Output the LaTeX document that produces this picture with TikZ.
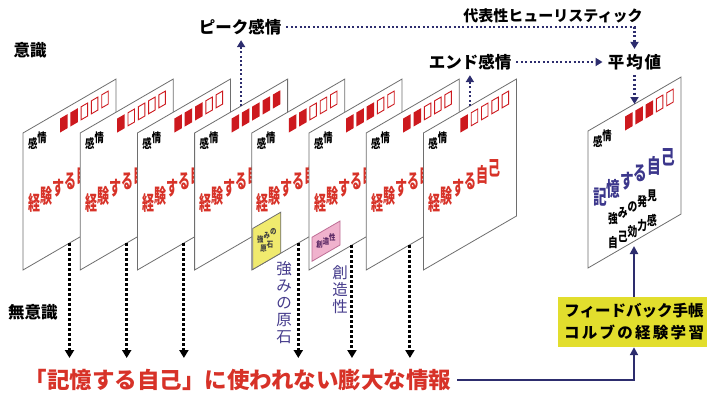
\documentclass[tikz,border=0pt]{standalone}
\usepackage{fontspec}
\setmainfont{Noto Sans CJK JP}
\newfontfamily\fsx{Noto Sans CJK JP}[FakeStretch=0.6]
\newfontfamily\fsxe{Noto Sans CJK JP}[FakeStretch=0.68]
\newfontfamily\fsvf{Noto Sans CJK JP}[FakeStretch=0.75]
\newfontfamily\fei{Noto Sans CJK JP}[FakeStretch=0.8]
\usetikzlibrary{arrows.meta,calc}
\definecolor{navy}{RGB}{45,45,110}
\definecolor{vlabc}{RGB}{70,60,140}
\definecolor{memc}{RGB}{60,55,140}
\definecolor{expred}{RGB}{215,50,40}
\definecolor{sqred}{RGB}{205,25,30}
\definecolor{cardgray}{RGB}{110,110,110}
\definecolor{fbyellow}{RGB}{226,222,45}
\definecolor{ylw}{RGB}{240,234,110}
\definecolor{pnk}{RGB}{240,178,205}
\definecolor{pnkd}{RGB}{190,110,150}
\definecolor{pnkt}{RGB}{90,40,100}
\tikzset{
 card/.style={draw=cardgray, fill=white, line width=0.8pt, minimum width=93pt, minimum height=137pt, inner sep=0pt, outer sep=0pt, anchor=north west, transform shape},
 ch/.style={inner sep=0pt},
 kanjo/.style={ch, font=\fsvf\bfseries\fontsize{12.5}{12.5}\selectfont},
 exptext/.style={ch, text=expred, font=\fsx\bfseries\fontsize{20}{20}\selectfont},
 memtext/.style={ch, text=memc, font=\fsxe\bfseries\fontsize{20}{20}\selectfont},
 smalltext/.style={ch, font=\fsvf\bfseries\fontsize{13}{13}\selectfont},
 boxtext/.style={ch, font=\fei\bfseries\fontsize{8}{8}\selectfont},
 lab/.style={font=\bfseries\fontsize{16.5}{16.5}\selectfont, inner sep=5pt},
 vlab/.style={text=vlabc, font=\fontsize{15.5}{17}\selectfont, align=center, inner sep=0pt},
 navydot/.style={navy, line width=2.2pt, dash pattern=on 2pt off 2.4pt, -{Triangle[width=8pt,length=7pt]}},
 blackdot/.style={black, line width=3pt, dash pattern=on 3pt off 2pt, -{Triangle[width=9pt,length=8pt]}},
 navyline/.style={navy, line width=2.2pt, -{Triangle[width=8pt,length=8pt]}},
 infotext/.style={text=expred, font=\bfseries\fontsize{22.5}{22.5}\selectfont, inner sep=6pt},
 fbbox/.style={fill=fbyellow, minimum width=152pt, minimum height=50pt, align=center, font=\bfseries\fontsize{15.5}{22}\selectfont, inner sep=0pt},
}
% characters one by one along the slanted line of a card:
% #1 style, #2 x of first centre, #3 y, #4 advance, #5 characters
\newcommand\slchars[5]{%
  \foreach \chr [count=\n from 0] in {#5}{\node[#1] at ({#2+#4*\n},#3) {\chr};}}
\newcommand\mkcard[4]{%
 \begin{scope}[shift={(#2)},yslant=0.58]
  \node[card] (#1) at (0,0) {};
  \foreach \i in {0,...,4}{%
   \ifnum\i<#3\relax
    \fill[sqred] (37+10.3*\i,7) -- ++(7.5,0) -- ++(0,14) -- ++(-7.5,0) -- cycle;
   \else
    \draw[sqred,fill=white,line width=0.9pt] (37.5+10.3*\i,7.5) -- ++(6.5,0) -- ++(0,13) -- ++(-6.5,0) -- cycle;
   \fi}
  \slchars{kanjo}{9.7}{16}{9.4}{感,情}
  #4
 \end{scope}}
\newcommand\expself{\slchars{exptext}{11}{76}{12}{経,験,す,る,自,己}}
\begin{document}
\begin{tikzpicture}[x=1pt,y=-1pt]
\useasboundingbox (0,0) rectangle (707,396);
\mkcard{c1}{23,133}{2}{\expself}
\mkcard{c2}{80.2,133}{1}{\expself}
\mkcard{c3}{137.4,133}{3}{\expself}
\mkcard{c4}{194.6,133}{5}{\expself}
\mkcard{c5}{251.8,133}{2}{\expself
  \draw[cardgray, fill=ylw, line width=0.8pt] (1,96) -- (29,96) -- (29,137) -- (1,137) -- cycle;
  \slchars{boxtext, text=black!75}{8.6}{111}{6.4}{強,み,の}
  \slchars{boxtext, text=black!75}{11.8}{122}{6.4}{原,石}}
\mkcard{c6}{309,133}{3}{\expself
  \draw[pnkd, fill=pnk, line width=0.8pt] (3,106) -- (31,106) -- (31,130) -- (3,130) -- cycle;
  \slchars{boxtext, text=pnkt}{10.6}{118}{6.4}{創,造,性}}
\mkcard{c7}{366.2,133}{2}{\expself}
\mkcard{c8}{423.4,133}{1}{\expself}
\mkcard{c9}{588,131}{3}{%
  \slchars{memtext}{11.8}{73}{13.6}{記,憶,す,る,自,己}
  \slchars{smalltext}{24.9}{102}{9.75}{強,み,の,発,見}
  \slchars{smalltext}{24.9}{126}{9.75}{自,己,効,力,感}}
% labels
\node[lab] (ishiki) at (30,50) {意識};
\node[lab] (muishiki) at (33,312) {無意識};
\node[lab] (peak) at (240,27) {ピーク感情};
\node[lab, font=\bfseries\fontsize{15}{15}\selectfont] (heur) at (553,15.5) {代表性ヒューリスティック};
\node[lab] (endk) at (470,62) {エンド感情};
\node[lab] (avg) at (634.5,62) {平\hspace{2pt}均\hspace{2pt}値};
\node[vlab] (v1) at (284,303) {強\\み\\の\\原\\石};
\node[vlab] (v2) at (340,290) {創\\造\\性};
\node[infotext] (info) at (238,380) {「記憶する自己」に使われない膨大な情報};
\node[fbbox] (fb) at (634,322) {フィードバック手帳\\\makebox[140pt][s]{コ\hfill ル\hfill ブ\hfill の\hfill 経\hfill 験\hfill 学\hfill 習}};
% connectors
\coordinate (bot) at (0,358);
\coordinate (s6) at ($(c6.south west)!0.462!(c6.south east)$);
\coordinate (s7) at ($(c7.south west)!0.47!(c7.south east)$);
\foreach \c in {c1.south,c2.south,c3.south,c5.south,s6,s7} \draw[blackdot] (\c) -- (\c |- bot);
\draw[navydot] (c4.north) -- (c4.north |- peak.south);
\draw[navydot] (c8.north) -- (c8.north |- endk.south);
\draw[navydot] (peak.east) -| (avg.north);
\draw[navydot] (endk.east) -- (avg.west);
\draw[navydot] (avg.south) -- (c9.north);
\draw[navyline] (info.east) -| (fb.south);
\draw[navyline, shorten >=5pt] (fb.north) -- (fb.north |- c9.south);
\end{tikzpicture}
\end{document}
